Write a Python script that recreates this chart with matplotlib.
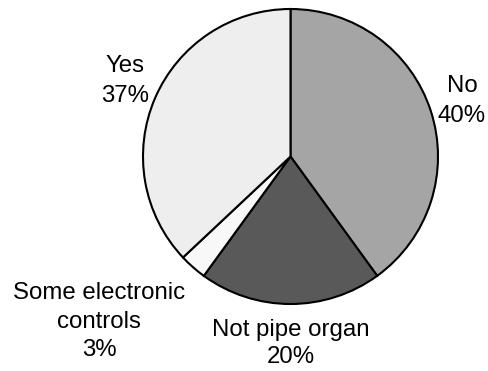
import matplotlib
matplotlib.use("Agg")
import matplotlib.pyplot as plt

# Survey answers and their shares (percent)
categories = ["No", "Not pipe organ", "Some electronic controls", "Yes"]
values = [40, 20, 3, 37]
colors = ["#a5a5a5", "#595959", "#f8f8f8", "#eeeeee"]

W, H = 489, 371
fig = plt.figure(figsize=(W / 100, H / 100), dpi=100)
ax = fig.add_axes([0, 0, 1, 1])

ax.pie(values, colors=colors, startangle=90, counterclock=False,
       center=(290.5, H - 156.5), radius=147.5,
       wedgeprops=dict(edgecolor="black", linewidth=1.5, joinstyle="miter"),
       frame=True)
ax.set_xlim(0, W)
ax.set_ylim(0, H)
ax.set_aspect("equal")
ax.axis("off")

font = dict(family=["Liberation Sans", "DejaVu Sans"], size=17.3, color="black")

# Label lines: (category index, centre x, baseline y of first line, line step)
label_layout = {
    "No": (462, 92, 30),
    "Not pipe organ": (291, 336, 27),
    "Some electronic controls": (99, 299, 28.5),
    "Yes": (125, 72, 30),
}
name_lines = {
    "No": ["No"],
    "Not pipe organ": ["Not pipe organ"],
    "Some electronic controls": ["Some electronic", "controls"],
    "Yes": ["Yes"],
}

for cat, val in zip(categories, values):
    x, y0, step = label_layout[cat]
    lines = name_lines[cat] + [f"{val}%"]
    for i, line in enumerate(lines):
        ax.text(x, H - (y0 + i * step), line, ha="center", va="baseline", **font)

fig.savefig("out.png", dpi=100, facecolor="white")
